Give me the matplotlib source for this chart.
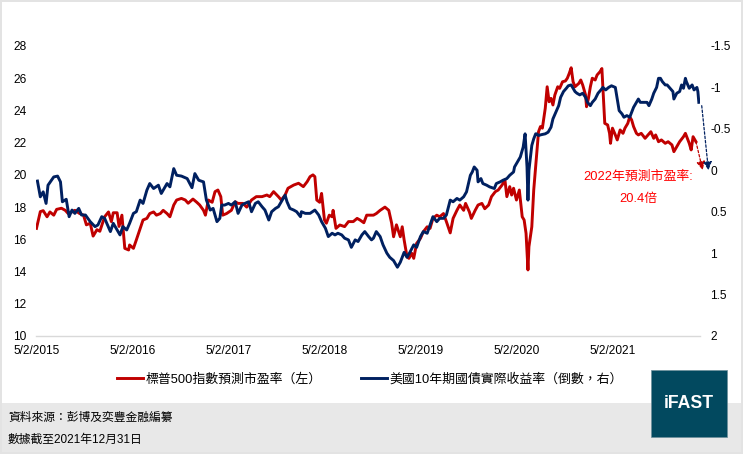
import numpy as np
import pandas as pd
import matplotlib
matplotlib.use('Agg')
import matplotlib.pyplot as plt
from matplotlib.patches import Rectangle

## Data (time as fractional year)
red_t = [2015.09, 2015.13, 2015.16, 2015.20, 2015.23, 2015.27, 2015.30, 2015.35, 2015.39, 2015.42,
         2015.46, 2015.49, 2015.54, 2015.58, 2015.61, 2015.65, 2015.68, 2015.72, 2015.75, 2015.80,
         2015.84, 2015.87, 2015.89, 2015.93, 2015.95, 2015.98, 2016.01, 2016.05, 2016.06, 2016.10,
         2016.13, 2016.17, 2016.20, 2016.24, 2016.27, 2016.31, 2016.34, 2016.38, 2016.41, 2016.45,
         2016.48, 2016.52, 2016.55, 2016.60, 2016.64, 2016.67, 2016.72, 2016.76, 2016.79, 2016.83,
         2016.85, 2016.88, 2016.92, 2016.95, 2016.98, 2017.01, 2017.03, 2017.07, 2017.12, 2017.16,
         2017.19, 2017.24, 2017.28, 2017.33, 2017.38, 2017.44, 2017.49, 2017.52, 2017.56, 2017.61,
         2017.64, 2017.68, 2017.71, 2017.77, 2017.82, 2017.87, 2017.91, 2017.94, 2017.97, 2017.99,
         2018.01, 2018.04, 2018.06, 2018.09, 2018.11, 2018.14, 2018.17, 2018.18, 2018.21, 2018.25,
         2018.30, 2018.34, 2018.39, 2018.43, 2018.46, 2018.50, 2018.53, 2018.56, 2018.60, 2018.63,
         2018.67, 2018.72, 2018.76, 2018.79, 2018.81, 2018.84, 2018.88, 2018.90, 2018.92, 2018.95,
         2018.97, 2019.00, 2019.02, 2019.05, 2019.09, 2019.12, 2019.16, 2019.19, 2019.22, 2019.26,
         2019.29, 2019.33, 2019.36, 2019.40, 2019.43, 2019.47, 2019.50, 2019.54, 2019.56, 2019.60,
         2019.62, 2019.66, 2019.69, 2019.73, 2019.76, 2019.80, 2019.83, 2019.87, 2019.90, 2019.94,
         2019.97, 2019.99, 2020.02, 2020.04, 2020.06, 2020.09, 2020.12, 2020.15, 2020.17, 2020.19,
         2020.21, 2020.22, 2020.25, 2020.27, 2020.30, 2020.32, 2020.34, 2020.36, 2020.39, 2020.41,
         2020.43, 2020.45, 2020.47, 2020.49, 2020.52, 2020.54, 2020.57, 2020.60, 2020.62, 2020.64,
         2020.66, 2020.68, 2020.70, 2020.74, 2020.76, 2020.78, 2020.81, 2020.82, 2020.84, 2020.86,
         2020.88, 2020.91, 2020.93, 2020.96, 2020.98, 2020.99, 2021.01, 2021.04, 2021.06, 2021.07,
         2021.09, 2021.12, 2021.14, 2021.17, 2021.20, 2021.22, 2021.25, 2021.27, 2021.29, 2021.31,
         2021.34, 2021.36, 2021.39, 2021.43, 2021.46, 2021.49, 2021.52, 2021.54, 2021.57, 2021.60,
         2021.64, 2021.67, 2021.71, 2021.73, 2021.76, 2021.79, 2021.83, 2021.85, 2021.87, 2021.89,
         2021.91, 2021.93, 2021.96]
red_pe = [16.68, 17.72, 17.78, 17.40, 17.70, 17.50, 17.86, 17.93, 17.80, 17.60,
          17.70, 17.80, 17.60, 17.50, 16.90, 17.00, 16.20, 16.60, 16.50, 17.40,
          17.70, 17.10, 17.65, 17.65, 16.80, 17.50, 15.44, 15.34, 15.65, 15.44,
          15.96, 16.68, 17.20, 17.30, 17.60, 17.70, 17.50, 17.60, 17.80, 17.60,
          17.40, 18.13, 18.44, 18.54, 18.44, 18.24, 18.50, 18.30, 18.13, 17.80,
          17.50, 18.44, 18.30, 18.96, 19.06, 18.65, 17.50, 17.60, 17.80, 18.33,
          18.23, 18.23, 18.00, 18.44, 18.65, 18.65, 18.75, 18.65, 18.96, 18.65,
          18.44, 18.75, 19.17, 19.37, 19.48, 19.27, 19.58, 19.89, 20.00, 19.89,
          18.44, 18.30, 18.85, 17.20, 17.00, 17.50, 17.40, 17.80, 16.68, 16.89,
          16.79, 17.10, 17.10, 17.30, 17.20, 17.03, 17.50, 17.50, 17.50, 17.60,
          17.80, 18.00, 17.80, 17.00, 16.16, 16.90, 16.16, 16.78, 15.96, 14.92,
          14.82, 15.13, 14.82, 15.75, 16.06, 16.47, 16.78, 16.68, 17.30, 17.50,
          17.40, 17.60, 17.10, 16.40, 17.30, 17.80, 18.13, 17.80, 18.23, 17.70,
          17.30, 17.80, 18.13, 18.23, 17.90, 18.13, 18.65, 18.96, 19.06, 19.37,
          19.68, 18.65, 19.27, 18.75, 19.17, 18.44, 19.06, 17.40, 17.20, 16.37,
          14.10, 15.54, 16.78, 19.06, 21.20, 22.68, 23.00, 22.90, 24.13, 25.47,
          24.54, 24.75, 24.34, 24.96, 25.47, 25.37, 25.78, 25.83, 26.00, 26.30,
          26.65, 25.78, 25.47, 25.68, 25.89, 25.58, 24.96, 24.23, 24.75, 25.47,
          26.00, 25.89, 26.20, 26.40, 26.60, 25.47, 23.20, 23.10, 22.58, 21.96,
          22.90, 22.48, 22.17, 22.79, 22.58, 22.90, 23.20, 23.61, 23.41, 23.00,
          22.58, 22.48, 22.58, 22.27, 22.48, 22.68, 22.27, 22.48, 22.06, 22.17,
          21.96, 22.06, 21.86, 21.44, 21.75, 22.06, 22.37, 22.58, 22.27, 21.96,
          21.55, 22.37, 22.06]

blue_t = [2015.10, 2015.13, 2015.16, 2015.19, 2015.21, 2015.27, 2015.31, 2015.34, 2015.36, 2015.40,
          2015.43, 2015.46, 2015.49, 2015.53, 2015.56, 2015.60, 2015.65, 2015.70, 2015.73, 2015.77,
          2015.80, 2015.86, 2015.89, 2015.93, 2015.96, 2015.99, 2016.03, 2016.06, 2016.10, 2016.13,
          2016.17, 2016.20, 2016.24, 2016.27, 2016.31, 2016.36, 2016.39, 2016.45, 2016.48, 2016.52,
          2016.55, 2016.60, 2016.66, 2016.71, 2016.74, 2016.78, 2016.83, 2016.86, 2016.90, 2016.93,
          2016.97, 2017.00, 2017.02, 2017.05, 2017.09, 2017.12, 2017.16, 2017.19, 2017.23, 2017.26,
          2017.30, 2017.33, 2017.37, 2017.40, 2017.44, 2017.47, 2017.51, 2017.54, 2017.58, 2017.61,
          2017.64, 2017.68, 2017.70, 2017.73, 2017.77, 2017.80, 2017.84, 2017.85, 2017.89, 2017.94,
          2017.99, 2018.03, 2018.06, 2018.10, 2018.13, 2018.17, 2018.20, 2018.23, 2018.27, 2018.30,
          2018.34, 2018.37, 2018.41, 2018.44, 2018.48, 2018.51, 2018.55, 2018.58, 2018.60, 2018.63,
          2018.67, 2018.70, 2018.74, 2018.77, 2018.81, 2018.85, 2018.88, 2018.92, 2018.95, 2018.98,
          2019.02, 2019.05, 2019.09, 2019.12, 2019.16, 2019.19, 2019.22, 2019.26, 2019.29, 2019.33,
          2019.36, 2019.40, 2019.43, 2019.47, 2019.50, 2019.54, 2019.57, 2019.61, 2019.63, 2019.65,
          2019.68, 2019.69, 2019.72, 2019.74, 2019.78, 2019.81, 2019.86, 2019.88, 2019.92, 2019.95,
          2019.99, 2020.02, 2020.06, 2020.07, 2020.10, 2020.13, 2020.16, 2020.18, 2020.20, 2020.21,
          2020.22, 2020.25, 2020.27, 2020.29, 2020.30, 2020.32, 2020.35, 2020.39, 2020.42, 2020.45,
          2020.47, 2020.50, 2020.53, 2020.55, 2020.58, 2020.61, 2020.63, 2020.66, 2020.68, 2020.70,
          2020.72, 2020.75, 2020.78, 2020.81, 2020.83, 2020.86, 2020.88, 2020.91, 2020.94, 2020.97,
          2020.99, 2021.02, 2021.05, 2021.08, 2021.12, 2021.14, 2021.16, 2021.19, 2021.21, 2021.24,
          2021.27, 2021.29, 2021.31, 2021.34, 2021.36, 2021.38, 2021.41, 2021.45, 2021.47, 2021.50,
          2021.52, 2021.55, 2021.57, 2021.59, 2021.61, 2021.64, 2021.66, 2021.69, 2021.72, 2021.73,
          2021.76, 2021.79, 2021.81, 2021.83, 2021.85, 2021.86, 2021.89, 2021.92, 2021.94, 2021.97,
          2021.98, 2021.99]
# 10Y real yield, plotted on an inverted right axis
blue_ry = [0.13, 0.32, 0.26, 0.40, 0.18, 0.08, 0.07, 0.14, 0.38, 0.35,
           0.56, 0.48, 0.52, 0.46, 0.54, 0.54, 0.62, 0.68, 0.66, 0.56,
           0.58, 0.74, 0.64, 0.72, 0.78, 0.68, 0.72, 0.64, 0.52, 0.50,
           0.36, 0.40, 0.24, 0.16, 0.22, 0.18, 0.28, 0.16, 0.20, -0.02,
           0.06, 0.07, 0.10, 0.21, 0.04, 0.12, 0.14, 0.36, 0.48, 0.46,
           0.62, 0.58, 0.42, 0.42, 0.40, 0.42, 0.38, 0.52, 0.42, 0.40,
           0.38, 0.50, 0.40, 0.38, 0.44, 0.48, 0.60, 0.50, 0.46, 0.44,
           0.38, 0.30, 0.38, 0.46, 0.48, 0.50, 0.56, 0.50, 0.52, 0.52,
           0.48, 0.54, 0.62, 0.70, 0.80, 0.76, 0.78, 0.76, 0.78, 0.82,
           0.84, 0.93, 0.84, 0.86, 0.78, 0.74, 0.80, 0.84, 0.82, 0.74,
           0.80, 0.90, 1.00, 1.05, 1.09, 1.17, 1.11, 0.99, 1.05, 0.99,
           0.90, 0.93, 0.80, 0.74, 0.76, 0.66, 0.56, 0.62, 0.58, 0.58,
           0.54, 0.36, 0.38, 0.34, 0.36, 0.32, 0.26, 0.06, 0.02, -0.04,
           0.00, 0.14, 0.10, 0.16, 0.18, 0.20, 0.22, 0.16, 0.14, 0.12,
           0.10, 0.06, 0.02, -0.04, -0.10, -0.16, -0.28, -0.44, -0.04, 0.36,
           0.00, -0.30, -0.38, -0.44, -0.44, -0.42, -0.43, -0.44, -0.46, -0.52,
           -0.62, -0.70, -0.78, -0.88, -0.95, -0.99, -1.02, -1.03, -0.99, -0.95,
           -0.93, -0.91, -0.93, -0.88, -0.82, -0.78, -0.82, -0.86, -0.93, -0.97,
           -1.00, -0.97, -1.00, -1.02, -1.00, -0.86, -0.72, -0.68, -0.64, -0.66,
           -0.64, -0.70, -0.76, -0.82, -0.86, -0.82, -0.82, -0.82, -0.78, -0.86,
           -0.93, -1.00, -1.11, -1.11, -1.07, -1.03, -1.03, -0.99, -0.95, -0.86,
           -0.93, -0.95, -1.03, -0.99, -1.11, -1.07, -0.99, -1.03, -0.97, -1.00,
           -0.95, -0.82]

# 2022 projections (arrow targets)
red_forecast_t, red_forecast = 2022.03, 20.3
blue_forecast_t, blue_forecast = 2022.09, 0.0
blue_arrow_start_t = 2022.02

left_ticks = [10, 12, 14, 16, 18, 20, 22, 24, 26, 28]
right_ticks = [-1.5, -1, -0.5, 0, 0.5, 1, 1.5, 2]
tick_dates = ['2015-02-05', '2016-02-05', '2017-02-05', '2018-02-05', '2019-02-05', '2020-02-05', '2021-02-05']
tick_labels = ['5/2/2015', '5/2/2016', '5/2/2017', '5/2/2018', '5/2/2019', '5/2/2020', '5/2/2021']

red_label = '標普500指數預測市盈率（左）'
blue_label = '美國10年期國債實際收益率（倒數，右）'
note_1 = '2022年預測市盈率:'
note_2 = '20.4倍'
source_1 = '資料來源：彭博及奕豐金融編纂'
source_2 = '數據截至2021年12月31日'

RED = '#c00000'
NAVY = '#002060'

plt.rcParams['font.family'] = ['Liberation Sans', 'Noto Sans CJK TC', 'DejaVu Sans']
plt.rcParams['axes.unicode_minus'] = False

W, H = 743, 454
fig = plt.figure(figsize=(W / 100, H / 100), dpi=100)
fig.patch.set_edgecolor('#e3e3e3')
fig.patch.set_linewidth(1.5)

# footer band and logo
fig.patches.append(Rectangle((2 / W, 2 / H), 739 / W, 49 / H, transform=fig.transFigure,
                             facecolor='#e8e8e8', edgecolor='none', zorder=0))
fig.patches.append(Rectangle((651 / W, 17 / H), 76 / W, 67 / H, transform=fig.transFigure,
                             facecolor='#02495f', edgecolor='#6d8f9b', lw=0.5, zorder=1))
fig.text(689 / W, 1 - 404 / H, 'iFAST', color='white', fontsize=12.7, fontweight='bold',
         ha='center', va='center', family='Liberation Sans')

ax = fig.add_axes([36 / W, 118 / H, 663.8 / W, 290 / H])
ax2 = ax.twinx()

l1, = ax.plot(red_t, red_pe, color=RED, lw=2.1, solid_joinstyle='round')
l2, = ax2.plot(blue_t, blue_ry, color=NAVY, lw=2.1, solid_joinstyle='round')

ax.set_xlim(2015.085, 2022.0)
ax.set_ylim(10, 28)
ax2.set_ylim(2, -1.5)

tick_pos = [d.year + (d.dayofyear - 1) / 365 for d in pd.to_datetime(tick_dates)]
ax.set_xticks(tick_pos)
ax.set_xticklabels(tick_labels)
ax.set_yticks(left_ticks)
ax.set_yticklabels([str(v) for v in left_ticks])
ax2.set_yticks(right_ticks)
ax2.set_yticklabels(['%g' % v for v in right_ticks])

for a in (ax, ax2):
    for s in a.spines.values():
        s.set_visible(False)
    a.tick_params(length=0, labelsize=8.6, colors='black')
ax.spines['bottom'].set_visible(True)
ax.spines['bottom'].set_color('#d9d9d9')
ax.spines['bottom'].set_linewidth(1)
ax.tick_params(axis='x', pad=6.5)
ax.tick_params(axis='y', pad=6.7)
ax2.tick_params(axis='y', pad=7.7)

# dashed projection arrows
ax.annotate('', xy=(red_forecast_t, red_forecast), xytext=(red_t[-1], red_pe[-1]),
            annotation_clip=False,
            arrowprops=dict(arrowstyle='-|>,head_length=0.5,head_width=0.25', color=RED, lw=0.9,
                            ls=(0, (2, 1.5)), shrinkA=0, shrinkB=0))
ax2.annotate('', xy=(blue_forecast_t, blue_forecast), xytext=(blue_arrow_start_t, blue_ry[-1] + 0.04),
             annotation_clip=False,
             arrowprops=dict(arrowstyle='-|>,head_length=0.5,head_width=0.25', color=NAVY, lw=0.9,
                             ls=(0, (2, 1.5)), shrinkA=0, shrinkB=0))

fig.text(638 / W, 1 - 177 / H, note_1, color='#ff0000', fontsize=9.3, ha='center', va='center')
fig.text(638 / W, 1 - 199 / H, note_2, color='#ff0000', fontsize=9.3, ha='center', va='center')

fig.legend([l1, l2], [red_label, blue_label], loc='center', bbox_to_anchor=(370 / W, 1 - 379 / H),
           ncol=2, frameon=False, fontsize=9.3, handlelength=2.0, handletextpad=0.25,
           columnspacing=3.0)

fig.text(8 / W, 1 - 418 / H, source_1, fontsize=8.5, ha='left', va='center')
fig.text(8 / W, 1 - 440 / H, source_2, fontsize=8.5, ha='left', va='center')

fig.savefig('out.png', dpi=100)
